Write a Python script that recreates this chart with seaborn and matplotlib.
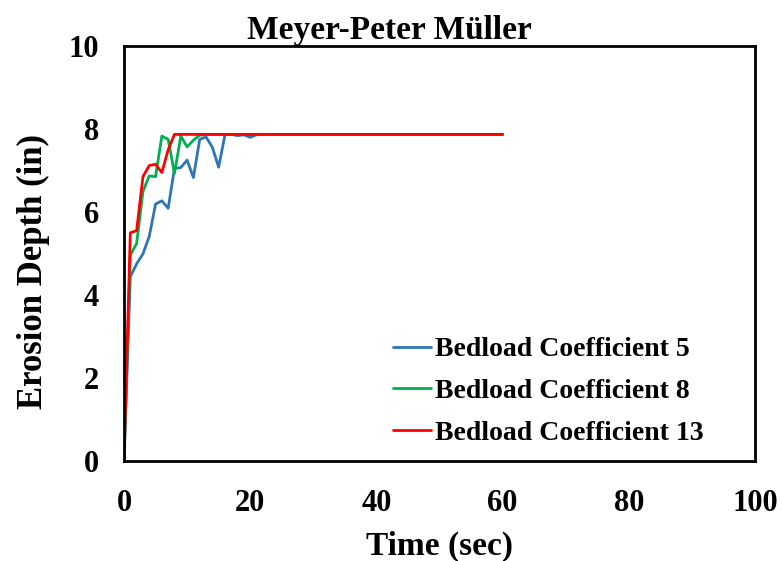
import matplotlib
matplotlib.use("Agg")
import matplotlib.pyplot as plt
from matplotlib.ticker import MultipleLocator
import seaborn as sns
import pandas as pd

time_sec = list(range(0, 61))
coef5 = [0.0, 4.44, 4.75, 4.99, 5.41, 6.19, 6.27, 6.09, 7.05, 7.07,
         7.25, 6.83, 7.75, 7.81, 7.56, 7.08, 7.86, 7.87, 7.84, 7.86,
         7.80, 7.86, 7.87, 7.87, 7.87, 7.87, 7.87, 7.87, 7.87, 7.87,
         7.87, 7.87, 7.87, 7.87, 7.87, 7.87, 7.87, 7.87, 7.87, 7.87,
         7.87, 7.87, 7.87, 7.87, 7.87, 7.87, 7.87, 7.87, 7.87, 7.87,
         7.87, 7.87, 7.87, 7.87, 7.87, 7.87, 7.87, 7.87, 7.87, 7.87,
         7.87]
coef8 = [0.0, 4.96, 5.24, 6.49, 6.87, 6.85, 7.83, 7.75, 6.93, 7.83,
         7.57, 7.73, 7.85, 7.87, 7.87, 7.87, 7.87, 7.87, 7.87, 7.87,
         7.87, 7.87, 7.87, 7.87, 7.87, 7.87, 7.87, 7.87, 7.87, 7.87,
         7.87, 7.87, 7.87, 7.87, 7.87, 7.87, 7.87, 7.87, 7.87, 7.87,
         7.87, 7.87, 7.87, 7.87, 7.87, 7.87, 7.87, 7.87, 7.87, 7.87,
         7.87, 7.87, 7.87, 7.87, 7.87, 7.87, 7.87, 7.87, 7.87, 7.87,
         7.87]
coef13 = [0.0, 5.50, 5.55, 6.85, 7.12, 7.15, 6.95, 7.50, 7.87, 7.87,
          7.87, 7.87, 7.87, 7.87, 7.87, 7.87, 7.87, 7.87, 7.87, 7.87,
          7.87, 7.87, 7.87, 7.87, 7.87, 7.87, 7.87, 7.87, 7.87, 7.87,
          7.87, 7.87, 7.87, 7.87, 7.87, 7.87, 7.87, 7.87, 7.87, 7.87,
          7.87, 7.87, 7.87, 7.87, 7.87, 7.87, 7.87, 7.87, 7.87, 7.87,
          7.87, 7.87, 7.87, 7.87, 7.87, 7.87, 7.87, 7.87, 7.87, 7.87,
          7.87]
series_names = ["Bedload Coefficient 5", "Bedload Coefficient 8", "Bedload Coefficient 13"]
colors = ["#2E75B6", "#00B050", "#FF0000"]

frames = []
for name, vals in zip(series_names, [coef5, coef8, coef13]):
    frames.append(pd.DataFrame({"Time": time_sec, "Depth": vals, "Series": name}))
df = pd.concat(frames, ignore_index=True)

sns.set_style("white")
plt.rcParams["font.family"] = ["Liberation Serif", "DejaVu Serif"]
plt.rcParams["font.weight"] = "bold"
plt.rcParams["text.color"] = "black"
plt.rcParams["axes.labelcolor"] = "black"
plt.rcParams["xtick.color"] = "black"
plt.rcParams["ytick.color"] = "black"

fig = plt.figure(figsize=(7.82, 5.61), dpi=100)
ax = fig.add_axes([124 / 782, 1 - 461 / 561, (755 - 124) / 782, (461 - 46) / 561])

sns.lineplot(data=df, x="Time", y="Depth", hue="Series", hue_order=series_names,
             palette=colors, linewidth=2.0, ax=ax, legend=False, sort=False)

ax.set_xlim(0, 100)
ax.set_ylim(0, 10)
ax.xaxis.set_major_locator(MultipleLocator(20))
ax.xaxis.set_minor_locator(MultipleLocator(10))
ax.yaxis.set_major_locator(MultipleLocator(2))
ax.yaxis.set_minor_locator(MultipleLocator(1))
ax.tick_params(which="major", direction="out", length=7, width=2, color="black",
               labelsize=22, labelcolor="black")
ax.tick_params(which="minor", direction="out", length=5, width=2, color="black")
ax.tick_params(axis="x", which="major", pad=13)
ax.tick_params(axis="y", which="major", pad=11)
for lab in ax.get_xticklabels() + ax.get_yticklabels():
    lab.set_fontweight("bold")
for sp in ax.spines.values():
    sp.set_color("black")
    sp.set_linewidth(2)
    sp.set_visible(True)

ax.set_xlabel("Time (sec)", fontsize=24, fontweight="bold", color="black", labelpad=9)
ax.set_ylabel("Erosion Depth (in)", fontsize=25, fontweight="bold", color="black")
ax.yaxis.set_label_coords(-0.117, 0.457)
ax.set_title("Meyer-Peter Müller", fontsize=24, fontweight="bold", color="black",
             pad=5, x=(389 - 124) / 631)

handles = [plt.Line2D([], [], color=c, linewidth=2.0) for c in colors]
leg = ax.legend(handles, series_names, loc="upper left",
                bbox_to_anchor=(393 / 782, 1 - 337 / 561), bbox_transform=fig.transFigure,
                frameon=False, borderpad=0, borderaxespad=0, handlelength=1.37,
                handletextpad=0.15, labelspacing=0.58,
                prop={"family": "Liberation Serif", "weight": "bold", "size": 20})
for t in leg.get_texts():
    t.set_color("black")

fig.savefig("out.png", dpi=100)
